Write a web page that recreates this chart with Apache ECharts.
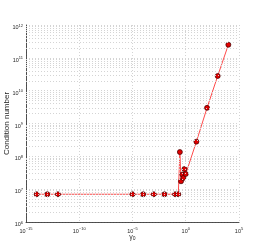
<!DOCTYPE html>
<html><head><meta charset="utf-8">
<script src="https://cdn.jsdelivr.net/npm/echarts@6/dist/echarts.min.js"></script>
<style>html,body{margin:0;padding:0;background:#fff}#c{width:255px;height:242px}</style>
</head><body><div id="c"></div>
<script>
const gamma = [1e-14, 1e-13, 1e-12, 1e-5, 1e-4, 1e-3, 1e-2, 1e-1, 0.2, 0.28, 0.36, 0.48, 0.6, 0.75, 1.0, 10, 100, 1000, 1e4];
const condNumber = [7e6, 7e6, 7e6, 7e6, 7e6, 7e6, 7e6, 7e6, 7e6, 1.35e8, 1.74e7, 2.8e7, 2.2e7, 4.1e7, 2.9e7, 2.8e8, 3.0e9, 2.8e10, 2.5e11];
const xTickExps = [-15, -10, -5, 0, 5];
const yTickExps = [6, 7, 8, 9, 10, 11, 12];
const xName = 'γ';
const yName = 'Condition number';

const minorY = [];
for (let n = 6; n < 12; n++) for (let k = 2; k <= 9; k++) minorY.push(k * Math.pow(10, n));

const gridLine = {type: [1, 2], color: '#d4d4d4', width: 1};
const supLabel = (v, list) => {
  const e = Math.round(Math.log10(v));
  if (list.indexOf(e) < 0) return '';
  return '{b|10}{s|' + String(e).replace('-', '−') + '}';
};
const rich = {
  b: {fontSize: 5.5, fontFamily: 'Liberation Sans', color: '#262626'},
  s: {fontSize: 4, fontFamily: 'Liberation Sans', color: '#262626', padding: [0, 0, 4, 0]}
};

const chart = echarts.init(document.getElementById('c'), null, {renderer: 'canvas'});
chart.setOption({
  animation: false,
  grid: {left: 26, right: 16, top: 25, bottom: 20, containLabel: false, outerBoundsMode: 'none'},
  xAxis: {
    type: 'log', logBase: 10, min: 1e-15, max: 1e5, interval: 5,
    name: '{g|' + xName + '}{z|0}', nameLocation: 'middle', nameGap: 11, nameMoveOverlap: false,
    nameTextStyle: {rich: {g: {fontSize: 7, fontFamily: 'Liberation Sans', color: '#262626'}, z: {fontSize: 5, fontFamily: 'Liberation Sans', color: '#262626', padding: [3, 0, 0, 0]}}},
    axisLine: {show: true, lineStyle: {color: '#262626', width: 0.8}},
    axisTick: {show: false},
    axisLabel: {interval: 0, margin: 3, padding: [2, 0, 0, 0], hideOverlap: false, showMinLabel: true, showMaxLabel: true, formatter: v => supLabel(v, xTickExps), rich: rich},
    splitLine: {show: true, lineStyle: gridLine}
  },
  yAxis: {
    type: 'log', logBase: 10, min: 1e6, max: 1e12, interval: 1,
    name: yName, nameLocation: 'middle', nameGap: 15, nameMoveOverlap: false,
    nameTextStyle: {fontSize: 8, fontFamily: 'Liberation Sans', color: '#262626'},
    axisLine: {show: true, lineStyle: {color: '#262626', width: 0.8}},
    axisTick: {show: false},
    axisLabel: {margin: 3, padding: [5, 0, 0, 0], hideOverlap: false, formatter: v => supLabel(v, yTickExps), rich: rich},
    splitLine: {show: true, lineStyle: gridLine}
  },
  series: [{
    type: 'line',
    data: gamma.map((g, i) => [g, condNumber[i]]),
    symbol: 'circle', symbolSize: 5,
    itemStyle: {color: '#e00000', borderColor: '#3a0000', borderWidth: 0.7},
    lineStyle: {color: '#ff4a4a', width: 1},
    markLine: {
      silent: true, symbol: 'none', label: {show: false}, animation: false,
      lineStyle: gridLine,
      data: minorY.map(v => ({yAxis: v}))
    },
    z: 3
  }]
});
</script></body></html>
